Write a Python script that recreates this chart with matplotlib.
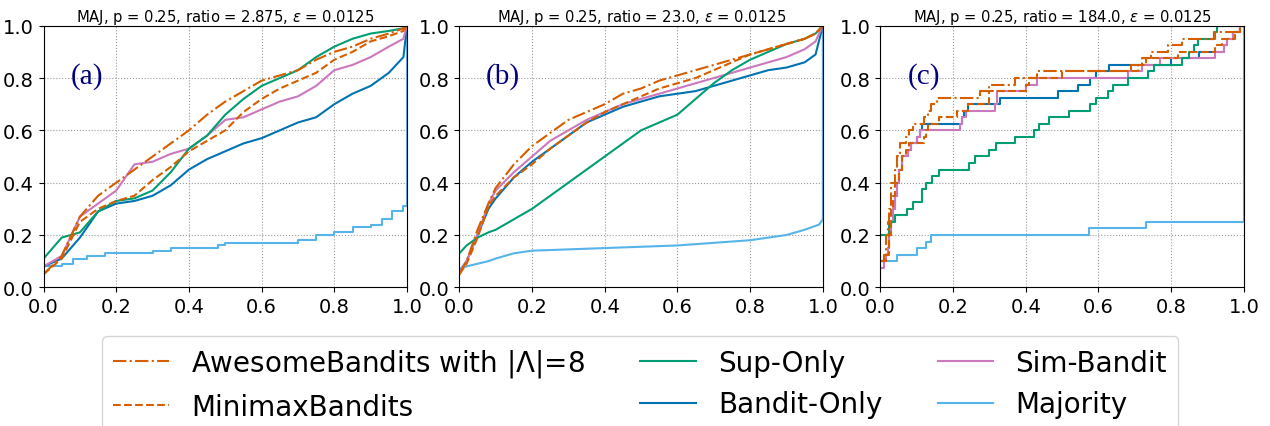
import numpy as np
import matplotlib
matplotlib.use("Agg")
import matplotlib.pyplot as plt

# series labels / colours
labels = ["AwesomeBandits with $|\\Lambda|$=8", "MinimaxBandits", "Sup-Only",
          "Bandit-Only", "Sim-Bandit", "Majority"]
colors = ["#D55E00", "#D55E00", "#029E73", "#0173B2", "#CC78BC", "#56B4E9"]
styles = ["-.", "--", "-", "-", "-", "-"]

titles = ["MAJ, p = 0.25, ratio = 2.875, $\\epsilon$ = 0.0125",
          "MAJ, p = 0.25, ratio = 23.0, $\\epsilon$ = 0.0125",
          "MAJ, p = 0.25, ratio = 184.0, $\\epsilon$ = 0.0125"]
panel_tags = ["(a)", "(b)", "(c)"]

# ---- panel (a): ratio 2.875 ----
a_x = [0, 0.05, 0.1, 0.15, 0.2, 0.25, 0.3, 0.35, 0.4, 0.45, 0.5, 0.55, 0.6, 0.65,
       0.7, 0.75, 0.8, 0.85, 0.9, 0.95, 0.99, 1.0]
a_awesome = [0.05, 0.12, 0.27, 0.35, 0.40, 0.45, 0.50, 0.55, 0.60, 0.66, 0.71, 0.75,
             0.79, 0.81, 0.83, 0.87, 0.90, 0.92, 0.95, 0.97, 0.99, 1.0]
a_minimax = [0.05, 0.11, 0.25, 0.30, 0.33, 0.35, 0.41, 0.46, 0.52, 0.56, 0.60, 0.67,
             0.72, 0.76, 0.79, 0.82, 0.87, 0.90, 0.94, 0.96, 0.98, 1.0]
a_sup = [0.11, 0.19, 0.21, 0.29, 0.33, 0.34, 0.37, 0.44, 0.53, 0.58, 0.66, 0.72,
         0.77, 0.80, 0.83, 0.88, 0.92, 0.95, 0.97, 0.98, 0.99, 1.0]
a_bandit = [0.08, 0.11, 0.19, 0.29, 0.32, 0.33, 0.35, 0.39, 0.45, 0.49, 0.52, 0.55,
            0.57, 0.60, 0.63, 0.65, 0.70, 0.74, 0.77, 0.82, 0.88, 1.0]
a_sim = [0.08, 0.12, 0.27, 0.32, 0.37, 0.47, 0.48, 0.51, 0.53, 0.58, 0.64, 0.65,
         0.68, 0.71, 0.73, 0.77, 0.83, 0.85, 0.88, 0.92, 0.95, 1.0]
a_maj_x = [0, 0.05, 0.08, 0.12, 0.17, 0.30, 0.35, 0.48, 0.50, 0.70, 0.75, 0.80,
           0.85, 0.90, 0.93, 0.96, 0.99, 1.0]
a_maj = [0.08, 0.09, 0.11, 0.12, 0.13, 0.14, 0.15, 0.16, 0.17, 0.18, 0.20, 0.21,
         0.23, 0.24, 0.26, 0.29, 0.31, 1.0]

# ---- panel (b): ratio 23.0 ----
b_x = [0, 0.02, 0.05, 0.08, 0.1, 0.15, 0.2, 0.25, 0.3, 0.35, 0.4, 0.45, 0.5, 0.55,
       0.6, 0.65, 0.7, 0.75, 0.8, 0.85, 0.9, 0.95, 0.98, 1.0]
b_awesome = [0.05, 0.10, 0.22, 0.32, 0.38, 0.47, 0.54, 0.59, 0.64, 0.67, 0.70, 0.74,
             0.76, 0.79, 0.81, 0.83, 0.85, 0.87, 0.89, 0.91, 0.93, 0.95, 0.97, 1.0]
b_minimax = [0.05, 0.09, 0.19, 0.31, 0.35, 0.42, 0.47, 0.53, 0.58, 0.63, 0.67, 0.70,
             0.73, 0.76, 0.78, 0.80, 0.83, 0.86, 0.89, 0.91, 0.93, 0.95, 0.97, 1.0]
b_sup = [0.13, 0.16, 0.19, 0.21, 0.22, 0.26, 0.30, 0.35, 0.40, 0.45, 0.50, 0.55,
         0.60, 0.63, 0.66, 0.72, 0.78, 0.83, 0.87, 0.90, 0.93, 0.95, 0.97, 1.0]
b_bandit = [0.06, 0.10, 0.20, 0.30, 0.34, 0.42, 0.48, 0.53, 0.58, 0.63, 0.66, 0.69,
            0.71, 0.73, 0.74, 0.75, 0.77, 0.79, 0.81, 0.83, 0.84, 0.86, 0.89, 1.0]
b_sim = [0.06, 0.10, 0.20, 0.32, 0.37, 0.44, 0.50, 0.56, 0.60, 0.64, 0.67, 0.70,
         0.72, 0.74, 0.76, 0.78, 0.80, 0.82, 0.84, 0.86, 0.88, 0.91, 0.94, 1.0]
b_maj_x = [0, 0.02, 0.05, 0.08, 0.1, 0.15, 0.2, 0.3, 0.4, 0.5, 0.6, 0.7, 0.8, 0.85,
           0.9, 0.95, 0.99, 1.0, 1.0]
b_maj = [0.07, 0.08, 0.09, 0.10, 0.11, 0.13, 0.14, 0.145, 0.15, 0.155, 0.16, 0.17,
         0.18, 0.19, 0.20, 0.22, 0.24, 0.26, 1.0]

# ---- panel (c): ratio 184.0 (step curves: x where each level starts) ----
c_awesome_x = [0, 0.01, 0.015, 0.02, 0.025, 0.03, 0.04, 0.045, 0.055, 0.07, 0.08,
               0.09, 0.12, 0.13, 0.14, 0.155, 0.275, 0.30, 0.37, 0.43, 0.69, 0.72,
               0.745, 0.79, 0.83, 0.92, 0.99, 1.0]
c_awesome = [0.10, 0.125, 0.20, 0.25, 0.30, 0.40, 0.45, 0.50, 0.55, 0.575, 0.60,
             0.625, 0.65, 0.675, 0.70, 0.725, 0.75, 0.775, 0.80, 0.825, 0.85, 0.875,
             0.90, 0.925, 0.95, 0.975, 1.0, 1.0]
c_minimax_x = [0, 0.015, 0.025, 0.03, 0.035, 0.04, 0.05, 0.06, 0.07, 0.08, 0.12,
               0.125, 0.13, 0.16, 0.21, 0.24, 0.30, 0.40, 0.41, 0.50, 0.71, 0.73,
               0.82, 0.92, 0.94, 0.975, 0.99, 1.0]
c_minimax = [0.10, 0.125, 0.20, 0.30, 0.35, 0.40, 0.45, 0.50, 0.525, 0.55, 0.575,
             0.60, 0.625, 0.65, 0.675, 0.70, 0.75, 0.775, 0.80, 0.825, 0.85, 0.875,
             0.90, 0.925, 0.95, 0.975, 1.0, 1.0]
c_sup_x = [0, 0.025, 0.04, 0.073, 0.09, 0.114, 0.126, 0.141, 0.162, 0.245, 0.26,
           0.30, 0.317, 0.37, 0.423, 0.437, 0.464, 0.52, 0.577, 0.594, 0.627, 0.64,
           0.68, 0.735, 0.753, 0.831, 0.849, 0.863, 0.873, 0.918, 0.927, 1.0]
c_sup = [0.20, 0.25, 0.275, 0.30, 0.325, 0.375, 0.40, 0.425, 0.45, 0.475, 0.50,
         0.525, 0.55, 0.575, 0.60, 0.625, 0.65, 0.675, 0.70, 0.725, 0.75, 0.775,
         0.80, 0.825, 0.85, 0.875, 0.90, 0.925, 0.95, 0.975, 1.0, 1.0]
c_bandit_x = [0, 0.012, 0.02, 0.025, 0.03, 0.035, 0.04, 0.045, 0.05, 0.06, 0.075,
              0.085, 0.10, 0.11, 0.115, 0.225, 0.23, 0.24, 0.33, 0.49, 0.545, 0.576,
              0.594, 0.63, 0.80, 0.877, 0.945, 0.955, 0.97, 0.99, 1.0]
c_bandit = [0.10, 0.125, 0.15, 0.20, 0.25, 0.30, 0.35, 0.40, 0.45, 0.50, 0.525,
            0.55, 0.575, 0.60, 0.625, 0.65, 0.675, 0.70, 0.725, 0.75, 0.775, 0.80,
            0.825, 0.85, 0.875, 0.90, 0.925, 0.95, 0.975, 1.0, 1.0]
c_sim_x = [0, 0.01, 0.015, 0.02, 0.025, 0.03, 0.035, 0.04, 0.045, 0.05, 0.06, 0.075,
           0.085, 0.10, 0.11, 0.22, 0.225, 0.235, 0.315, 0.32, 0.40, 0.43, 0.68,
           0.72, 0.77, 0.92, 0.945, 0.955, 0.97, 0.99, 1.0]
c_sim = [0.075, 0.10, 0.125, 0.15, 0.20, 0.25, 0.30, 0.35, 0.40, 0.45, 0.50, 0.525,
         0.55, 0.575, 0.60, 0.625, 0.65, 0.675, 0.70, 0.75, 0.775, 0.80, 0.825,
         0.85, 0.875, 0.90, 0.925, 0.95, 0.975, 1.0, 1.0]
c_maj_x = [0, 0.045, 0.10, 0.125, 0.14, 0.575, 0.73, 1.0]
c_maj = [0.10, 0.125, 0.15, 0.175, 0.20, 0.225, 0.25, 1.0]

panels = [
    [(a_x, a_awesome), (a_x, a_minimax), (a_x, a_sup), (a_x, a_bandit), (a_x, a_sim), (a_maj_x, a_maj)],
    [(b_x, b_awesome), (b_x, b_minimax), (b_x, b_sup), (b_x, b_bandit), (b_x, b_sim), (b_maj_x, b_maj)],
    [(c_awesome_x, c_awesome), (c_minimax_x, c_minimax), (c_sup_x, c_sup),
     (c_bandit_x, c_bandit), (c_sim_x, c_sim), (c_maj_x, c_maj)],
]
# drawstyle per panel / series
draw = [
    ["default"] * 5 + ["steps-post"],
    ["default"] * 6,
    ["steps-post"] * 6,
]

fig = plt.figure(figsize=(12.7, 4.27), dpi=100)
lefts = [0.0343, 0.3617, 0.6932]
handles = []
for i in range(3):
    ax = fig.add_axes([lefts[i], 0.3248, 0.2862, 0.6127])
    # majority first, others on top
    order = [5, 3, 4, 2, 1, 0]
    for j in order:
        xs, ys = panels[i][j]
        ln, = ax.plot(xs, ys, color=colors[j], ls=styles[j], lw=1.5,
                      drawstyle=draw[i][j], label=labels[j])
        if i == 0:
            handles.append((j, ln))
    ax.set_xlim(0, 1)
    ax.set_ylim(0, 1)
    ax.set_xticks(np.arange(0, 1.01, 0.2))
    ax.set_yticks(np.arange(0, 1.01, 0.2))
    ax.tick_params(labelsize=14)
    ax.grid(True, ls=":", color="0.6", lw=0.8)
    ax.set_title(titles[i], fontsize=10.6, pad=3)
    ax.text(0.12, 0.81, panel_tags[i], transform=ax.transAxes, ha="center", va="center",
            fontsize=21, color="#000080", family="Liberation Serif")

handles = [h for _, h in sorted(handles, key=lambda t: t[0])]
fig.legend(handles, [h.get_label() for h in handles], loc="upper center",
           bbox_to_anchor=(0.504, 0.211), ncol=3, fontsize=20, handlelength=2.0,
           columnspacing=2.0, labelspacing=0.5, borderaxespad=0)

fig.savefig("out.png", dpi=100)
